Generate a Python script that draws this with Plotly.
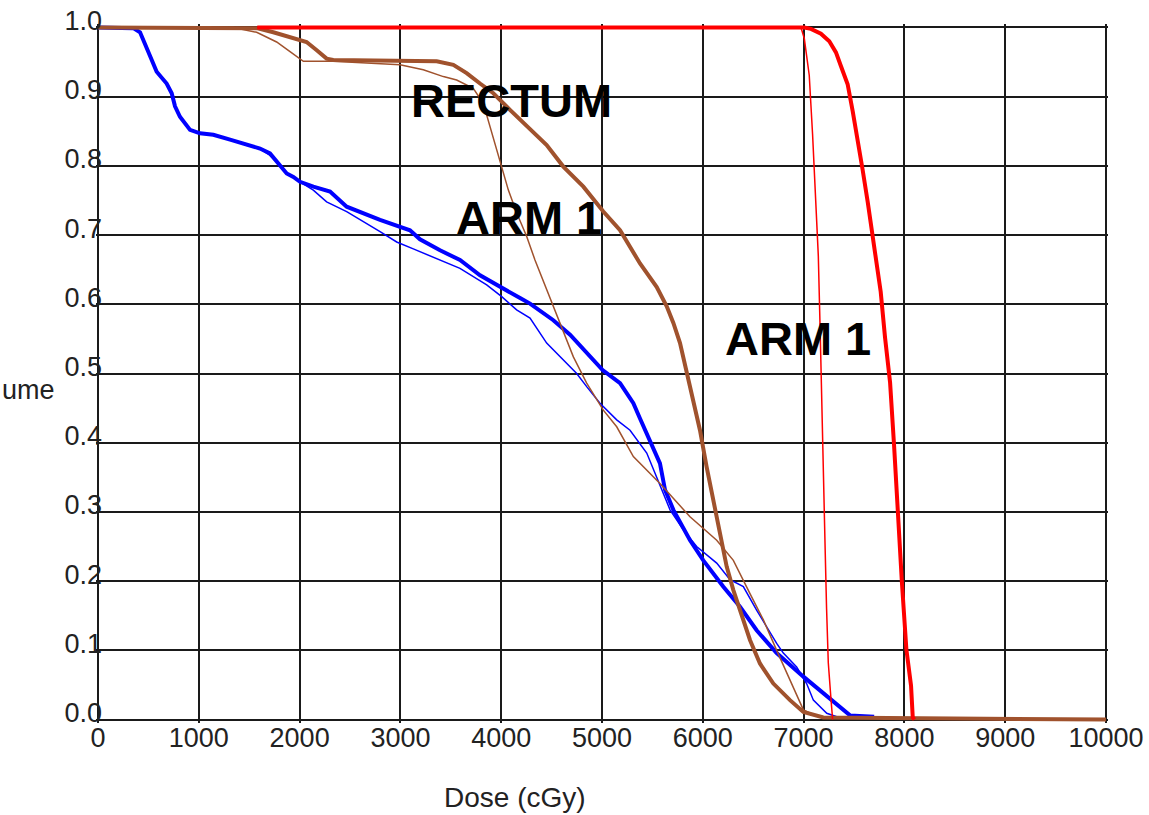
import plotly.graph_objects as go

# ---- data (dose in cGy, relative volume) ----
blue_thick_dose = [0, 350, 417, 483, 533, 582, 681, 731, 764, 813, 913, 1012, 1144, 1310, 1475, 1607,
                   1706, 1806, 1872, 1938, 2004, 2136, 2302, 2467, 2798, 3095, 3194, 3393, 3591, 3790,
                   4005, 4187, 4286, 4517, 4683, 4848, 5006, 5179, 5311, 5377, 5476, 5575, 5625, 5708,
                   5873, 6005, 6204, 6369, 6534, 6733, 6998, 7196, 7361, 7460, 7700]
blue_thick_vol = [1.0, 0.999, 0.993, 0.972, 0.953, 0.936, 0.919, 0.905, 0.886, 0.871, 0.852, 0.847,
                  0.845, 0.838, 0.830, 0.825, 0.818, 0.801, 0.789, 0.784, 0.777, 0.770, 0.763, 0.741,
                  0.722, 0.707, 0.694, 0.678, 0.664, 0.642, 0.625, 0.609, 0.601, 0.577, 0.556, 0.529,
                  0.505, 0.486, 0.457, 0.435, 0.402, 0.370, 0.332, 0.303, 0.259, 0.230, 0.192, 0.163,
                  0.129, 0.096, 0.062, 0.038, 0.018, 0.006, 0.004]

blue_thin_dose = [0, 350, 417, 483, 533, 582, 681, 731, 764, 813, 913, 1012, 1144, 1310, 1475, 1607,
                  1706, 1806, 1872, 1938, 2004, 2136, 2268, 2467, 2798, 2963, 3128, 3393, 3591, 3856,
                  4005, 4153, 4286, 4451, 4583, 4749, 4848, 4980, 5146, 5278, 5444, 5543, 5675, 5807,
                  5939, 6138, 6270, 6402, 6534, 6733, 6799, 6931, 7030, 7097, 7230, 7329]
blue_thin_vol = [1.0, 0.999, 0.993, 0.972, 0.953, 0.936, 0.919, 0.905, 0.886, 0.871, 0.852, 0.847,
                 0.845, 0.838, 0.830, 0.825, 0.815, 0.801, 0.789, 0.784, 0.777, 0.765, 0.748, 0.734,
                 0.705, 0.690, 0.680, 0.664, 0.652, 0.628, 0.611, 0.592, 0.580, 0.544, 0.524, 0.500,
                 0.481, 0.457, 0.433, 0.418, 0.385, 0.351, 0.303, 0.274, 0.250, 0.226, 0.202, 0.192,
                 0.158, 0.110, 0.096, 0.076, 0.052, 0.028, 0.009, 0.004]

brown_thick_dose = [0, 1574, 1739, 1970, 2069, 2170, 2268, 2334, 2830, 3360, 3525, 3657, 3790, 3922,
                    4087, 4253, 4451, 4616, 4815, 5013, 5179, 5377, 5543, 5642, 5708, 5774, 5840, 5906,
                    5972, 6038, 6104, 6170, 6237, 6303, 6369, 6468, 6567, 6700, 6865, 6998, 7196, 10000]
brown_thick_vol = [1.0, 0.999, 0.993, 0.984, 0.979, 0.967, 0.955, 0.953, 0.952, 0.951, 0.946, 0.934,
                   0.919, 0.905, 0.881, 0.857, 0.830, 0.799, 0.770, 0.734, 0.707, 0.659, 0.625, 0.597,
                   0.573, 0.544, 0.500, 0.462, 0.418, 0.365, 0.317, 0.269, 0.221, 0.187, 0.158, 0.115,
                   0.081, 0.052, 0.028, 0.011, 0.003, 0.0]

brown_thin_dose = [0, 1342, 1574, 1772, 1905, 2037, 2330, 2830, 2996, 3227, 3426, 3558, 3723, 3823,
                   3872, 3938, 4005, 4071, 4154, 4253, 4335, 4451, 4583, 4716, 4848, 5013, 5146, 5311,
                   5575, 5873, 6138, 6303, 6468, 6601, 6733, 6865, 6998, 7097, 7196]
brown_thin_vol = [1.0, 1.0, 0.993, 0.979, 0.965, 0.951, 0.951, 0.948, 0.946, 0.939, 0.929, 0.924,
                  0.912, 0.890, 0.866, 0.833, 0.799, 0.765, 0.732, 0.698, 0.664, 0.621, 0.573, 0.524,
                  0.486, 0.447, 0.423, 0.380, 0.341, 0.293, 0.259, 0.230, 0.182, 0.144, 0.100, 0.057,
                  0.014, 0.007, 0.004]

red_thick_dose = [1580, 7007, 7073, 7172, 7255, 7321, 7371, 7437, 7487, 7536, 7586, 7636, 7690, 7765,
                  7808, 7858, 7898, 7935, 7975, 8020, 8066, 8083, 8100]
red_thick_vol = [1.0, 1.0, 0.998, 0.991, 0.980, 0.964, 0.944, 0.918, 0.879, 0.840, 0.794, 0.748,
                 0.696, 0.618, 0.552, 0.487, 0.395, 0.297, 0.199, 0.101, 0.049, 0.003, 0.0]

red_thin_dose = [1580, 6974, 7007, 7056, 7089, 7123, 7146, 7166, 7179, 7195, 7212, 7228, 7245, 7272, 7288]
red_thin_vol = [1.0, 1.0, 0.984, 0.931, 0.846, 0.748, 0.670, 0.552, 0.454, 0.356, 0.258, 0.160,
                0.082, 0.029, 0.0]

labels = ["RECTUM", "ARM 1", "ARM 1"]
label_x = [4107, 4271, 6949]
label_y = [0.894, 0.726, 0.551]

x_ticks = list(range(0, 10001, 1000))
y_ticks = [round(i * 0.1, 1) for i in range(11)]

BLUE = "#0000FF"
BROWN = "#A0522D"
RED = "#FF0000"

fig = go.Figure()
series = [
    (blue_thin_dose, blue_thin_vol, BLUE, 1.5),
    (blue_thick_dose, blue_thick_vol, BLUE, 4),
    (brown_thin_dose, brown_thin_vol, BROWN, 1.5),
    (brown_thick_dose, brown_thick_vol, BROWN, 4),
    (red_thin_dose, red_thin_vol, RED, 1.5),
    (red_thick_dose, red_thick_vol, RED, 4),
]
for xs, ys, col, w in series:
    fig.add_trace(go.Scatter(x=xs, y=ys, mode="lines", line=dict(color=col, width=w),
                             showlegend=False, hoverinfo="skip"))

for t, x, y in zip(labels, label_x, label_y):
    fig.add_annotation(x=x, y=y, text=t, showarrow=False, xanchor="center", yanchor="middle",
                       font=dict(family="Liberation Sans", size=47, color="black", weight="bold"))

tick_font = dict(family="Liberation Sans", size=27, color="#222222")

fig.add_annotation(xref="paper", yref="paper", x=(515 - 96) / 1012, y=-(797 - 723) / 699,
                   text="Dose (cGy)", showarrow=False, xanchor="center", yanchor="middle",
                   font=dict(family="Liberation Sans", size=28, color="#222222"))
fig.add_annotation(xref="paper", yref="paper", x=(57 - 96) / 1012, y=(723 - 390) / 699,
                   text="ume", showarrow=False, xanchor="right", yanchor="middle",
                   font=tick_font)

fig.update_layout(
    template="none",
    width=1149, height=815,
    margin=dict(l=96, r=41, t=24, b=92, autoexpand=False),
    plot_bgcolor="white", paper_bgcolor="white",
)
fig.update_xaxes(range=[-20, 10020], tickvals=x_ticks, ticktext=[str(v) for v in x_ticks],
                 showgrid=True, gridcolor="#1a1a1a", gridwidth=2, zeroline=False, automargin=False,
                 showline=False, ticks="", tickfont=tick_font, ticklabelstandoff=-4)
fig.update_yaxes(range=[-0.005, 1.005], tickvals=y_ticks, ticktext=[f"{v:.1f}" for v in y_ticks],
                 showgrid=True, gridcolor="#1a1a1a", gridwidth=2, zeroline=False, automargin=False,
                 showline=False, ticks="", tickfont=tick_font, ticklabelstandoff=-7,
                 ticklabelshift=-7)

fig.write_html("out.html", config={"displayModeBar": False},
               post_script="document.body.style.margin='0';")
